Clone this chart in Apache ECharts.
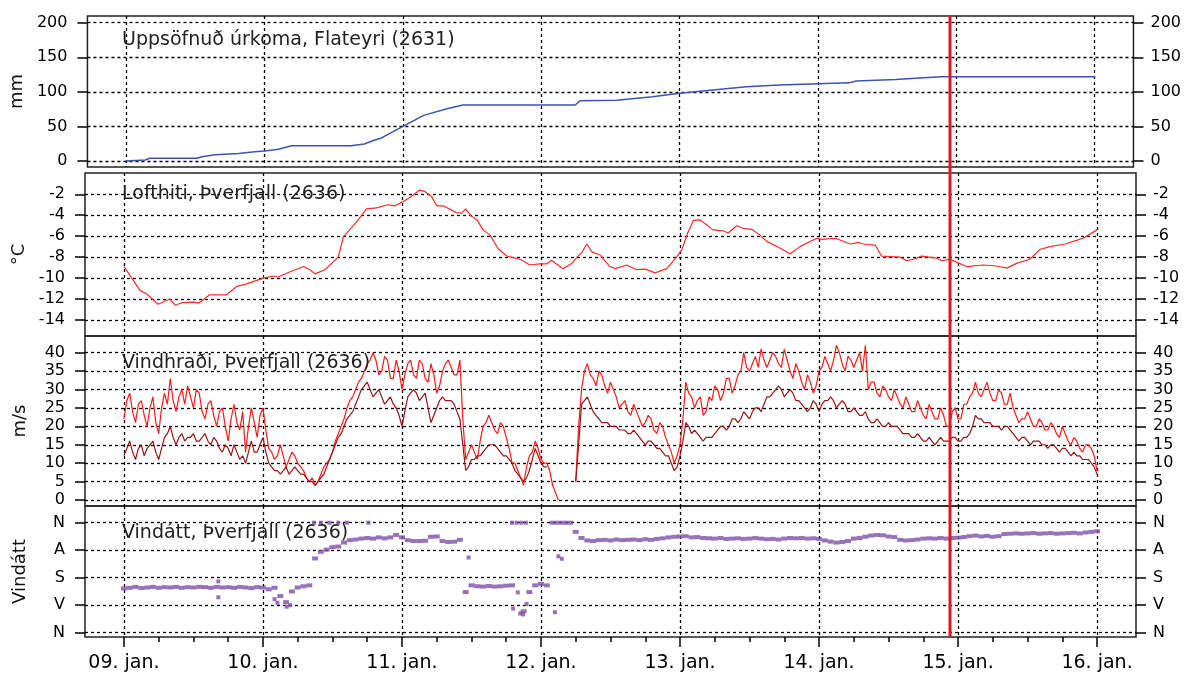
<!DOCTYPE html>
<html><head><meta charset="utf-8">
<script src="https://cdn.jsdelivr.net/npm/echarts@6/dist/echarts.min.js"></script>
<style>html,body{margin:0;padding:0;background:#fff}#c{width:1184px;height:675px}</style>
</head><body><div id="c"></div>
<script>
// ---- Data (hours since 09. jan. 00:00) ----
const dayTicks = [0,24,48,72,96,120,144,168];
const sixHourTicks = [0,6,12,18,24,30,36,42,48,54,60,66,72,78,84,90,96,102,108,114,120,126,132,138,144,150,156,162,168];

const precipHours = [0,3.3,4.1,12.3,13.1,15.4,19.5,22.3,24,26.4,28.7,39,41.3,43,44.2,48,51.6,55.8,58.4,77.9,78.7,85.1,91.3,96,99.5,107.6,113.3,125.4,126.6,133.5,138.3,141.4,168];
const precipValues = [0,1.5,4,4,6,9,11,13.5,14.5,17,22,22,24.6,30,33,50,66,76,81,81,87,88,93,98,101,107.5,110,113,115.7,118,120.5,122,122];

const tempHours = [0,1.6,2.8,3.9,5.9,7.9,8.9,10.0,12.0,12.9,14.8,17.7,19.5,20.9,24.1,25.8,26.6,28.7,31.0,32.1,33.0,34.7,37.0,37.9,39.9,41.9,43.6,45.6,46.8,48.2,49.1,51.1,52.0,53.1,54.0,55.1,57.4,58.3,59.0,60.0,60.9,62.0,63.2,64.6,66.1,68.4,70.1,71.8,73.0,73.8,75.8,77.3,78.4,79.0,79.9,80.8,82.2,83.9,84.8,86.8,88.5,90.0,91.7,93.7,95.4,96.3,97.4,98.3,99.5,100.3,101.7,103.5,104.3,105.8,106.9,108.4,109.8,111.0,113.3,115.0,116.7,119.6,120.5,122.8,125.4,126.8,127.6,129.7,130.8,134.0,135.1,136.3,137.7,140.3,141.2,142.6,143.8,145.5,148.4,150.7,152.4,154.1,156.4,158.2,159.9,162.5,163.9,165.6,168.0];
const tempValues = [-8.9,-10.2,-11.2,-11.5,-12.5,-12.0,-12.6,-12.35,-12.3,-12.4,-11.6,-11.6,-10.8,-10.6,-10.0,-9.8,-9.9,-9.4,-8.9,-9.2,-9.6,-9.2,-8.0,-6.05,-4.8,-3.4,-3.3,-3.0,-3.1,-2.7,-2.4,-1.6,-1.75,-2.2,-3.1,-3.1,-3.75,-3.8,-3.4,-4.1,-4.4,-5.4,-5.9,-7.2,-7.9,-8.2,-8.75,-8.65,-8.65,-8.3,-9.1,-8.6,-7.9,-7.6,-6.75,-7.5,-7.8,-8.9,-9.1,-8.75,-9.2,-9.15,-9.5,-9.1,-8.0,-7.3,-5.6,-4.5,-4.45,-4.8,-5.4,-5.5,-5.7,-5.0,-5.25,-5.35,-5.9,-6.5,-7.15,-7.7,-7.0,-6.2,-6.3,-6.2,-6.75,-6.6,-6.75,-6.85,-7.9,-8.0,-8.35,-8.2,-7.9,-8.1,-8.35,-8.2,-8.5,-8.9,-8.75,-8.85,-9.05,-8.6,-8.2,-7.25,-7.0,-6.75,-6.5,-6.2,-5.4];

// wind samples every 30 min: values on the hour (h = 0..168) and on the half hour (h = 0.5..167.5)
const windGust = [22,29,21,27,20,28,18,29,33,24,30,31,25,29,22,27,20,25,16,26,19,13,25,17,25,
14,11,15,9,13,10,8,5,4,7,10,13,18,22,27,30,33,37,40,34,39,33,38,30,
37,34,38,33,37,29,35,38,34,38,11,15,11,20,23,19,21,17,10,8,4,12,16,11,
10,4,0,null,null,5,30,37,33,35,31,32,28,26,24,26,22,21,22,18,20,15,10,15,
32,28,27,23,28,31,27,33,29,34,40,35,39,41,36,40,37,41,35,37,32,34,29,35,
39,35,42,37,39,36,40,42,32,29,31,28,30,26,28,24,27,23,26,22,25,20,24,22,
26,28,32,28,32,27,30,26,29,23,22,24,20,22,19,21,18,20,16,17,14,15,14,8];
const windGustHalf = [27,24,26,23,25,21,25,26,27,28,26,28,30,24,26,23,24,20,22,21,24,20,21,23,
19,13,12,12,11,12,9,6,6,5,9,11,16,20,25,28,32,35,38,38,35,38,33,35,
34,38,33,37,32,34,31,37,36,34,22,13,13,16,21,21,18,20,14,10,6,9,13,14,
10,8,2,null,null,null,20,35,34,31,34,29,30,25,27,23,24,20,23,19,21,17,13,12,
22,29,25,28,24,27,30,29,33,31,35,36,37,36,38,38,39,36,38,33,35,30,32,31,
36,37,38,40,35,38,38,35,30,32,28,30,27,28,25,26,24,25,22,24,22,23,20,25,
22,26,29,29,30,29,27,29,26,25,21,22,22,20,21,19,20,17,18,15,16,13,15,12];
const windMean = [12,16,11,15,14,16,11,17,20,15,18,17,18,16,18,15,16,13,14,15,11,10,16,13,17,
10,8,7,9,8,8,7,5,4,6,9,13,17,20,23,26,30,32,28,30,26,28,25,20,
28,30,27,29,21,25,28,27,26,22,8,11,12,13,15,15,13,12,10,7,5,8,14,10,
9,null,null,null,null,5,26,28,24,22,21,20,20,19,18,19,17,15,16,14,13,12,8,12,
21,18,18,16,17,18,20,19,22,21,24,22,25,24,28,29,31,28,30,27,26,24,27,24,
27,28,25,27,24,25,23,24,21,22,20,21,20,19,18,17,18,16,17,15,17,16,17,16,
17,18,23,22,21,20,20,20,19,17,17,16,16,16,15,15,14,14,13,13,12,11,10,7];
const windMeanHalf = [14,13,14,12,15,13,14,18,17,17,16,17,16,17,16,17,14,15,12,13,12,13,13,15,
13,9,8,8,7,9,7,6,5,5,7,11,15,18,22,24,28,31,30,29,28,27,26,23,
24,29,29,28,25,23,27,27,27,24,15,9,11,12,14,15,14,12,11,8,6,6,11,12,
9,null,null,null,null,null,15,27,26,23,21,21,20,19,19,18,18,16,16,15,14,12,10,9,
16,20,19,17,17,17,19,20,20,22,22,23,24,25,26,28,30,30,29,29,27,25,25,26,
26,27,27,26,26,24,24,23,22,21,21,20,20,20,18,18,17,17,16,16,16,16,16,17,
16,17,20,22,21,21,20,19,20,18,16,17,15,16,15,14,15,13,14,12,12,11,11,9];
// hourly wind direction in degrees (0 = N at top), first sample at hour 0
const windDir = [215,213,210,214,212,210,213,211,212,210,213,211,212,210,211,213,210,212,211,213,210,212,214,211,212,
218,213,240,260,225,212,208,205,117,95,88,80,78,65,57,55,52,50,52,48,51,48,40,48,
57,60,60,59,46,45,60,63,62,56,227,205,208,209,207,209,208,206,205,null,290,227,205,200,
205,0,0,0,0,30,50,58,60,57,56,58,55,57,56,55,57,54,56,53,51,48,46,45,
44,48,47,50,51,52,50,53,52,51,53,52,50,52,54,53,55,52,50,51,50,52,51,53,
58,62,65,63,60,52,50,46,42,40,41,45,47,56,58,57,55,52,51,52,50,52,50,49,
47,44,42,45,43,46,44,37,36,35,36,35,34,36,35,34,36,35,34,33,35,32,30,28];
const dirExtraHours = [16.3,16.3,26.0,26.5,28.1,28.7,32.8,34.0,35.5,37.0,38.5,42.2,59.5,67.0,67.8,68.6,69.4,67.2,68.4,68.9,69.5,68.0,74.4,75.0,75.6];
const dirExtraValues = [192,244,250,262,275,270,0,0,0,0,0,0,114,0,0,0,0,281,297,300,266,228,293,110,118];

const nowHour = 142.9;
const dirLabels = {0:'N',90:'A',180:'S',270:'V',360:'N'};
const precipTicks = [0,50,100,150,200];
const tempTicks = [-14,-12,-10,-8,-6,-4,-2];
const windTicks = [0,5,10,15,20,25,30,35,40];
const dirTicks = [0,90,180,270,360];

// ---- build ----
const zip = (xs, ys) => xs.map((x, i) => [x, ys[i]]);
const hourly = (arr) => arr.map((v, i) => [i, v]);
const halfHourly = (onHour, onHalf) => {
  const out = [];
  onHour.forEach((v, i) => { out.push([i, v]); if (i < onHalf.length) out.push([i + 0.5, onHalf[i]]); });
  return out;
};

const FONT = 'DejaVu Sans';
const X_MIN = -6.72, X_MAX = 174.72;
const dotted = {type: [3, 3], color: '#000', width: 1.3};
const grids = [
  {left: 85, right: 48, top: 16, height: 151},
  {left: 85, right: 48, top: 173, height: 163},
  {left: 85, right: 48, top: 336, height: 170},
  {left: 85, right: 48, top: 506, height: 131}
].map(g => Object.assign(g, {show: true, borderColor: '#222', borderWidth: 1.5, backgroundColor: 'transparent'}));

const xAxes = [0,1,2,3].map(i => ({
  type: 'value', gridIndex: i, min: X_MIN, max: X_MAX, position: 'bottom',
  axisLine: {show: false, onZero: false},
  axisTick: {show: i === 3, inside: false, customValues: dayTicks, length: 10, lineStyle: {color: '#000', width: 1.5}},
  axisLabel: {show: i === 3, customValues: dayTicks, margin: 17, fontSize: 19, fontFamily: FONT, color: '#000',
    formatter: v => { const d = 9 + Math.round(v / 24); return (d < 10 ? '0' : '') + d + '. jan.'; }},
  splitLine: {show: true, lineStyle: dotted}
}));
xAxes.push({
  type: 'value', gridIndex: 3, min: X_MIN, max: X_MAX, position: 'bottom',
  axisLine: {show: false, onZero: false}, axisLabel: {show: false}, splitLine: {show: false},
  axisTick: {show: true, inside: false, customValues: sixHourTicks, length: 5, lineStyle: {color: '#000', width: 1.5}}
});

function yPair(grid, min, max, ticks, name, fmt, inverse) {
  const common = {type: 'value', gridIndex: grid, min: min, max: max, inverse: !!inverse,
    axisLine: {show: false, onZero: false},
    axisTick: {show: true, inside: false, customValues: ticks, length: 10, lineStyle: {color: '#000', width: 1.5}}};
  const lab = {customValues: ticks, fontSize: 16, fontFamily: FONT, color: '#000'};
  if (fmt) lab.formatter = fmt;
  return [
    Object.assign({}, common, {position: 'left', name: name, nameLocation: 'middle', nameGap: 56, nameRotate: 90,
      nameTextStyle: {fontSize: 18, fontFamily: FONT, color: '#111'},
      axisLabel: Object.assign({}, lab, {margin: 20}),
      splitLine: {show: true, lineStyle: dotted}}),
    Object.assign({}, common, {position: 'right',
      axisLabel: Object.assign({}, lab, {margin: 17}),
      splitLine: {show: false}})
  ];
}
const yAxes = [].concat(
  yPair(0, -8.7, 209.7, precipTicks, 'mm'),
  yPair(1, -15.53, 0.03, tempTicks, '°C'),
  yPair(2, -1.63, 44.53, windTicks, 'm/s'),
  yPair(3, -54.7, 374, dirTicks, 'Vindátt', v => dirLabels[v], true)
);

const titleStyle = {fontSize: 19, fontWeight: 'normal', fontFamily: FONT, color: '#222'};
const titles = [
  ['Uppsöfnuð úrkoma, Flateyri (2631)', 31],
  ['Lofthiti, Þverfjall (2636)', 185],
  ['Vindhraði, Þverfjall (2636)', 354],
  ['Vindátt, Þverfjall (2636)', 524]
].map(t => ({text: t[0], left: 122, top: t[1], padding: 0, textStyle: titleStyle}));

const chart = echarts.init(document.getElementById('c'), null, {renderer: 'canvas'});
chart.setOption({
  animation: false,
  backgroundColor: '#fff',
  title: titles,
  grid: grids,
  xAxis: xAxes,
  yAxis: yAxes,
  series: [
    {type: 'line', xAxisIndex: 0, yAxisIndex: 0, data: zip(precipHours, precipValues), showSymbol: false,
      lineStyle: {color: '#3a55b0', width: 1.5}},
    {type: 'line', xAxisIndex: 1, yAxisIndex: 2, data: zip(tempHours, tempValues), showSymbol: false,
      lineStyle: {color: '#ff2a2a', width: 1.2}},
    {type: 'line', xAxisIndex: 2, yAxisIndex: 4, data: halfHourly(windGust, windGustHalf), showSymbol: false, connectNulls: false,
      lineStyle: {color: '#ff1a1a', width: 1.2}},
    {type: 'line', xAxisIndex: 2, yAxisIndex: 4, data: halfHourly(windMean, windMeanHalf), showSymbol: false, connectNulls: false,
      lineStyle: {color: '#9a1515', width: 1.2}},
    {type: 'scatter', xAxisIndex: 3, yAxisIndex: 6, data: hourly(windDir).filter(p => p[1] !== null),
      symbol: 'rect', symbolSize: [6, 4], itemStyle: {color: '#7d4fa6'}},
    {type: 'scatter', xAxisIndex: 3, yAxisIndex: 6, data: zip(dirExtraHours, dirExtraValues),
      symbol: 'rect', symbolSize: [4, 4], itemStyle: {color: '#7d4fa6'}}
  ]
});

// "now" marker spanning all panels, positioned through the axes' scales
const nx = chart.convertToPixel({xAxisIndex: 0}, nowHour);
const ny1 = chart.convertToPixel({yAxisIndex: 0}, 209.7);
const ny2 = chart.convertToPixel({yAxisIndex: 6}, 374);
chart.setOption({graphic: [{type: 'line', z: 100,
  shape: {x1: nx, y1: ny1, x2: nx, y2: ny2},
  style: {stroke: '#e8141b', lineWidth: 3}}]});
</script></body></html>
